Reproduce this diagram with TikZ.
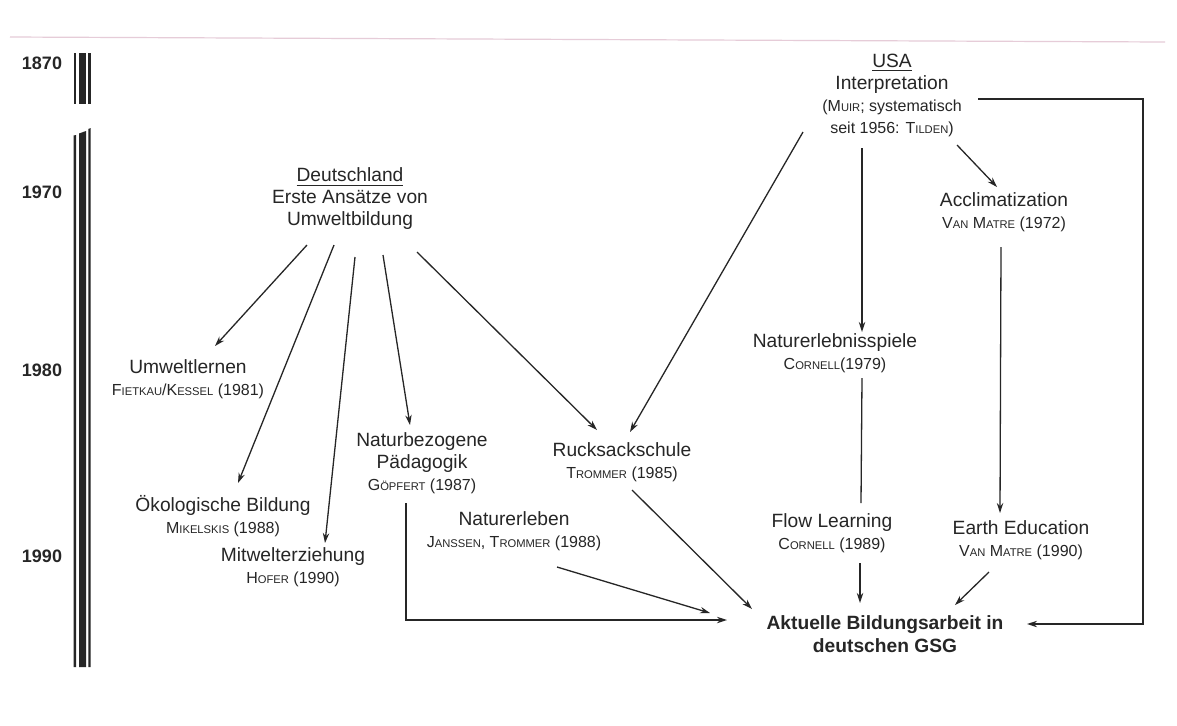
\documentclass[tikz,border=0pt]{standalone}
\usepackage{fontspec}
\setmainfont{Liberation Sans}
\usetikzlibrary{arrows.meta}
\definecolor{ink}{HTML}{262626}
\definecolor{scanline}{HTML}{E6CCD8}
\newcommand\smc[1]{{\fontsize{5.6}{11}\selectfont #1}}
\newcommand\subl[1]{{\fontsize{8}{11}\selectfont #1}}
\begin{document}
\begin{tikzpicture}[x=0.5pt,y=-0.5pt,
  lbl/.style={align=center, inner sep=0pt, text=ink, font=\fontsize{9.6}{11}\selectfont},
  yr/.style={inner sep=0pt, text=ink, font=\fontsize{9}{11}\selectfont\bfseries},
  arr/.style={draw=ink, line width=0.65pt, -{Stealth[length=5pt,width=3.2pt]}},
  ln/.style={draw=ink, line width=0.65pt}]
\useasboundingbox (0,0) rectangle (1177,725);
\fill[white] (0,0) rectangle (1177,725);
% faint scan line at top
\draw[scanline, line width=0.6pt] (10,37) -- (1165,42);
% timeline bars
\fill[ink] (73.5,53) rectangle (76,104);
\fill[ink] (79,53) rectangle (86,104);
\fill[ink] (88.3,53) rectangle (90.7,104);
\fill[ink] (73.5,135.5) -- (76,135) -- (76,667) -- (73.5,667) -- cycle;
\fill[ink] (79,133.5) -- (86,131) -- (86,667) -- (79,667) -- cycle;
\fill[ink] (88.3,129) -- (90.7,128) -- (90.7,667) -- (88.3,667) -- cycle;
% year labels
\node[yr] (y1870) at (42,63) {1870};
\node[yr] (y1970) at (42,192) {1970};
\node[yr] (y1980) at (42,370) {1980};
\node[yr] (y1990) at (42,556) {1990};
% nodes
\node[lbl] (usa) at (892,95) {\underline{USA}\\Interpretation\\\subl{(M\smc{UIR}; systematisch}\\\subl{seit 1956: T\smc{ILDEN})}};
\node[lbl] (de) at (350,199) {\underline{Deutschland}\\Erste Ansätze von\\Umweltbildung};
\node[lbl] (accl) at (1004,212) {Acclimatization\\\subl{V\smc{AN} M\smc{ATRE} (1972)}};
\node[lbl] (umw) at (188,379) {Umweltlernen\\\subl{F\smc{IETKAU}/K\smc{ESSEL} (1981)}};
\node[lbl] (nsp) at (835,353) {Naturerlebnisspiele\\\subl{C\smc{ORNELL}(1979)}};
\node[lbl] (nbp) at (422,463) {Naturbezogene\\Pädagogik\\\subl{G\smc{ÖPFERT} (1987)}};
\node[lbl] (rs) at (622,462) {Rucksackschule\\\subl{T\smc{ROMMER} (1985)}};
\node[lbl] (oek) at (223,516) {Ökologische Bildung\\\subl{M\smc{IKELSKIS} (1988)}};
\node[lbl] (ne) at (514,531) {Naturerleben\\\subl{J\smc{ANSSEN}, T\smc{ROMMER} (1988)}};
\node[lbl] (mw) at (293,567) {Mitwelterziehung\\\subl{H\smc{OFER} (1990)}};
\node[lbl] (fl) at (832,533) {Flow Learning\\\subl{C\smc{ORNELL} (1989)}};
\node[lbl] (ee) at (1021,540) {Earth Education\\\subl{V\smc{AN} M\smc{ATRE} (1990)}};
\node[lbl, font=\fontsize{9.6}{11.5}\selectfont\bfseries] (akt) at (885,634) {Aktuelle Bildungsarbeit in\\deutschen GSG};
% connectors from Deutschland
\draw[arr] ([shift={(-43,46)}]de.center) -- ([shift={(27,-33)}]umw.center);
\draw[arr] ([shift={(-16,46)}]de.center) -- ([shift={(15,-33)}]oek.center);
\draw[arr] ([shift={(5,58)}]de.center) -- ([shift={(32,-24)}]mw.center);
\draw[arr] ([shift={(33,56)}]de.center) -- ([shift={(-12,-38)}]nbp.center);
\draw[arr] ([shift={(67,53)}]de.center) -- ([shift={(-25,-32)}]rs.center);
% connectors from USA
\draw[arr] ([shift={(-89,37)}]usa.center) -- ([shift={(8,-30)}]rs.center);
\draw[arr] ([shift={(-30,53)}]usa.center) -- ([shift={(27,-21)}]nsp.center);
\draw[arr] ([shift={(65,50)}]usa.center) -- ([shift={(-7,-25)}]accl.center);
\draw[arr] ([shift={(-3,35)}]accl.center) -- ([shift={(-21,-27)}]ee.center);
\draw[ln] ([shift={(27,25)}]nsp.center) -- ([shift={(29,-30)}]fl.center);
% into Aktuelle Bildungsarbeit
\draw[arr] ([shift={(28,30)}]fl.center) -- ([shift={(-25,-31)}]akt.center);
\draw[arr] ([shift={(-32,32)}]ee.center) -- ([shift={(70,-29)}]akt.center);
\draw[arr] ([shift={(10,28)}]rs.center) -- ([shift={(-133,-25)}]akt.center);
\draw[arr] ([shift={(43,36)}]ne.center) -- ([shift={(-175,-21)}]akt.center);
\draw[arr] ([shift={(-16,40)}]nbp.center) |- ([shift={(-158,-14)}]akt.center);
\draw[arr] ([shift={(86,4)}]usa.center) -- ++(165,0) |- ([shift={(142,-10)}]akt.center);
\end{tikzpicture}
\end{document}
